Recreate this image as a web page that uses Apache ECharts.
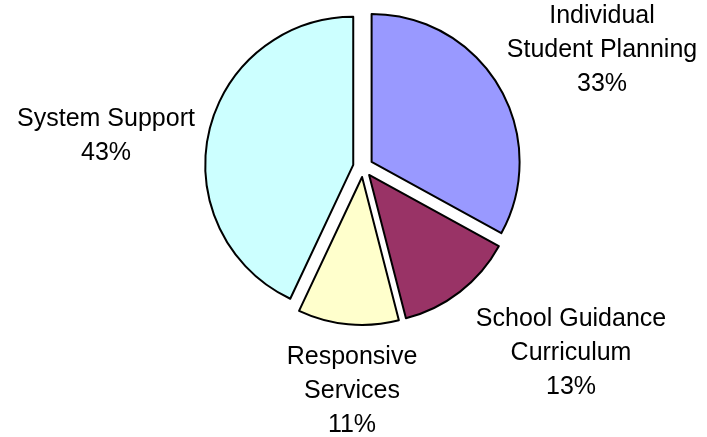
<!DOCTYPE html>
<html>
<head>
<meta charset="utf-8">
<script src="https://cdn.jsdelivr.net/npm/echarts@6/dist/echarts.min.js"></script>
<style>html,body{margin:0;padding:0;background:#fff}#c{width:707px;height:437px}</style>
</head>
<body>
<div id="c"></div>
<script>
const categories = ["Individual\nStudent Planning", "School Guidance\nCurriculum", "Responsive\nServices", "System Support"];
const values = [33, 13, 11, 43];
const colors = ["#9999FF", "#993366", "#FFFFCC", "#CCFFFF"];
const labelPos = [[602, 50], [571, 353], [352, 391], [106, 136]];

const chart = echarts.init(document.getElementById('c'));
chart.setOption({
  animation: false,
  graphic: categories.map((n, i) => ({
    type: 'text',
    x: labelPos[i][0],
    y: labelPos[i][1],
    silent: true,
    style: {
      text: n + '\n' + values[i] + '%',
      fontFamily: 'Liberation Sans, Arial, sans-serif',
      fontSize: 25,
      lineHeight: 34,
      fill: '#000',
      align: 'center',
      verticalAlign: 'middle'
    }
  })),
  series: [{
    type: 'pie',
    center: [363, 167],
    radius: 148,
    startAngle: 90,
    clockwise: true,
    selectedMode: 'multiple',
    selectedOffset: 10,
    emphasis: { disabled: true },
    itemStyle: { borderColor: '#000', borderWidth: 2 },
    labelLine: { show: false },
    label: { show: false },
    data: categories.map((n, i) => ({ name: n, value: values[i], selected: true, itemStyle: { color: colors[i] } }))
  }]
});
</script>
</body>
</html>
